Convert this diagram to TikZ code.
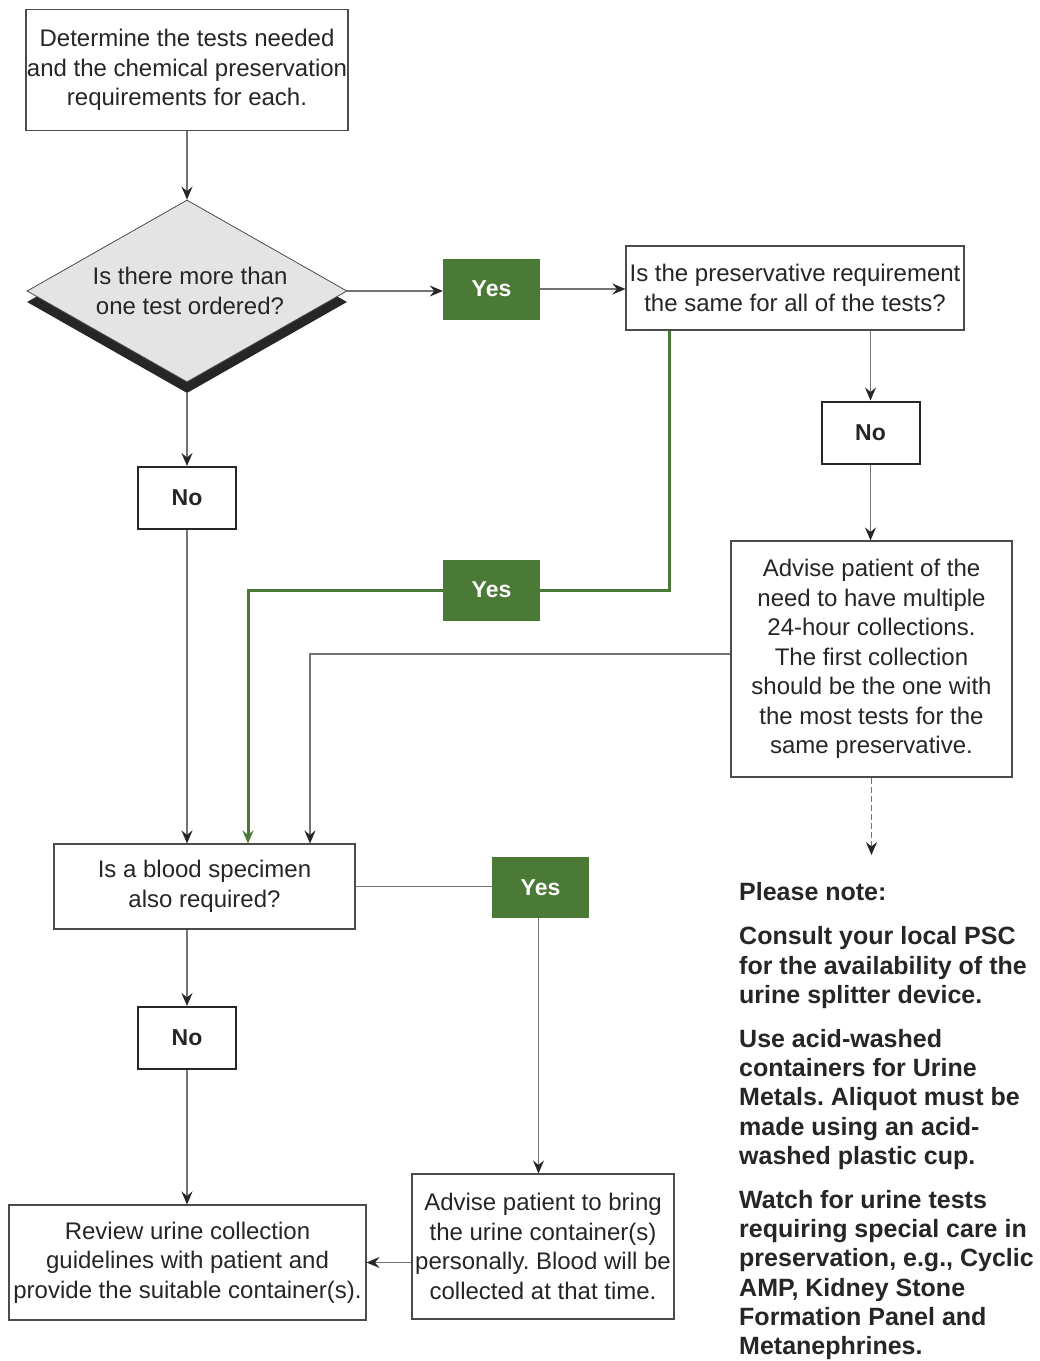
\documentclass[tikz,border=0pt]{standalone}
\usepackage{fontspec}
\setmainfont{Liberation Sans}
\usetikzlibrary{shapes.geometric,arrows.meta}
\definecolor{grn}{RGB}{74,122,53}
\definecolor{bord}{RGB}{75,75,75}
\definecolor{conncol}{RGB}{115,115,115}
\definecolor{dfill}{RGB}{227,228,227}
\definecolor{ink}{RGB}{38,38,38}
\frenchspacing
\begin{document}
\begin{tikzpicture}[x=1pt,y=-1pt,
 txt/.style={font=\fontsize{24}{29.5}\selectfont, align=center, text=ink},
 box/.style={draw=bord, line width=1.1pt, fill=white, inner sep=0pt, txt},
 nobox/.style={draw=ink, line width=2pt, fill=white, minimum width=98pt, minimum height=62pt, inner sep=0pt, text=ink, font=\fontsize{23}{28}\bfseries\selectfont},
 yesbox/.style={fill=grn, text=white, minimum width=97pt, minimum height=61pt, inner sep=0pt, font=\fontsize{23}{28}\bfseries\selectfont},
 conn/.style={draw=conncol, line width=1.5pt},
 arr/.style={conn, -{Stealth[length=13pt,width=11pt,inset=4.5pt,ink]}},
 garr/.style={draw=grn, line width=3pt, -{Stealth[length=13pt,width=11pt,inset=4.5pt]}},
 dia/.style={diamond, aspect=1.76, minimum width=320pt, minimum height=182pt, inner sep=0pt},
]
\useasboundingbox (0,0) rectangle (1040,1361);
\fill[white] (0,0) rectangle (1040,1361);

\node[box, minimum width=322pt, minimum height=121pt] (b1) at (187,70) {Determine the tests needed\\and the chemical preservation\\requirements for each.};

\node[dia, fill=ink] (ds) at (187,302) {};
\node[dia, draw=bord, line width=0.8pt, fill=dfill, txt] (d) at (187,291) {\hspace*{6pt}Is there more than\\\hspace*{6pt}one test ordered?};

\node[yesbox] (y1) at (491.5,289) {Yes};
\node[box, minimum width=338pt, minimum height=84pt] (b2) at (795,288) {Is the preservative requirement\\the same for all of the tests?};
\node[nobox] (n1) at (870.5,432.5) {No};
\node[box, minimum width=281pt, minimum height=236pt] (b3) at (871.5,659) {Advise patient of the\\need to have multiple\\24-hour collections.\\The first collection\\should be the one with\\the most tests for the\\same preservative.};
\node[yesbox] (y2) at (491.5,590) {Yes};
\node[nobox] (n2) at (187,498) {No};
\node[box, minimum width=301pt, minimum height=85pt] (b4) at (204.5,886.5) {Is a blood specimen\\also required?};
\node[yesbox] (y3) at (540.5,887.5) {Yes};
\node[nobox] (n3) at (187,1038) {No};
\node[box, minimum width=357pt, minimum height=115pt] (b5) at (187.5,1262.5) {Review urine collection\\guidelines with patient and\\provide the suitable container(s).};
\node[box, minimum width=262pt, minimum height=145pt] (b6) at (543,1246.5) {Advise patient to bring\\the urine container(s)\\personally. Blood will be\\collected at that time.};

\node[anchor=north west, align=left, inner sep=0pt, text=ink, font=\fontsize{25}{29.1}\bfseries\selectfont] (note) at (739,882) {Please note:\\[15.5pt]
Consult your local PSC\\for the availability of the\\urine splitter device.\\[15.5pt]
Use acid-washed\\containers for Urine\\Metals. Aliquot must be\\made using an acid-\\washed plastic cup.\\[15.5pt]
Watch for urine tests\\requiring special care in\\preservation, e.g., Cyclic\\AMP, Kidney Stone\\Formation Panel and\\Metanephrines.};

\coordinate (dend) at (871.5,855);

\draw[arr] (b1.south) -- (d.north);
\draw[arr] (d.east) -- (d.east -| y1.west);
\draw[arr] (y1.east) -- (y1.east -| b2.west);
\draw[arr] (n1.north |- b2.south) -- (n1.north);
\draw[arr] (n1.south) -- (n1.south |- b3.north);
\draw[draw=grn, line width=3pt] ([xshift=44pt]b2.south west) |- (y2.east);
\draw[garr] (y2.west) -| ([xshift=43.5pt]b4.north);
\draw[arr] ([yshift=5pt]b3.west) -| ([xshift=105.5pt]b4.north);
\draw[arr] (ds.south) -- (n2.north);
\draw[arr] (n2.south) -- (n2.south |- b4.north);
\draw[conn] (b4.east) -- (b4.east -| y3.west);
\draw[arr] ([xshift=-2pt]y3.south) -- ([xshift=-2pt]y3.south |- b6.north);
\draw[arr] (n3.north |- b4.south) -- (n3.north);
\draw[arr] (n3.south) -- (n3.south |- b5.north);
\draw[arr] (b5.east -| b6.west) -- (b5.east);
\draw[arr, dash pattern=on 6pt off 3pt] (b3.south) -- (dend);
\end{tikzpicture}
\end{document}
